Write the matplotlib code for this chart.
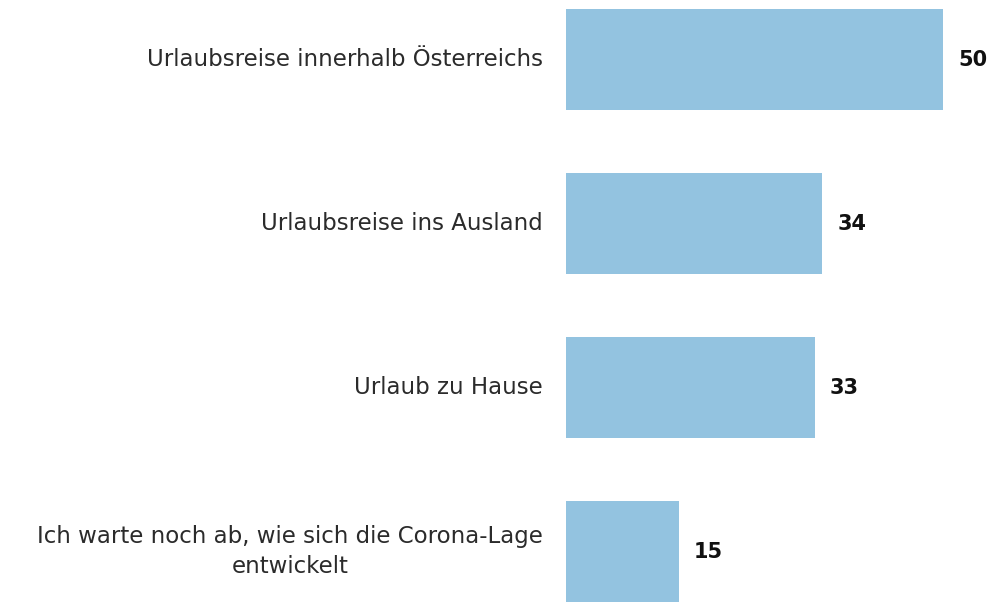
import matplotlib
matplotlib.use("Agg")
import matplotlib.pyplot as plt

categories = ["Urlaubsreise innerhalb Österreichs", "Urlaubsreise ins Ausland",
              "Urlaub zu Hause", "Ich warte noch ab, wie sich die Corona-Lage\nentwickelt"]
values = [50, 34, 33, 15]

fig = plt.figure(figsize=(9.92, 6.02), dpi=100)
ax = fig.add_axes([566/992, 0, 1 - 566/992, 1])
y = list(range(len(categories)))
ax.barh(y, values, height=0.616, color="#93C3E0")
ax.set_xlim(0, 426/7.54)
ax.set_ylim(3 + 50.5/164, -59.5/164)
ax.axis("off")
for yi, cat, v in zip(y, categories, values):
    ax.annotate(cat, xy=(0, yi), xytext=(-23, 0), textcoords="offset pixels",
                ha="right", va="center", multialignment="center", fontsize=16.5,
                color="#2b2b2b", family="DejaVu Sans", linespacing=1.4)
    ax.annotate(str(v), xy=(v, yi), xytext=(15, 0), textcoords="offset pixels",
                ha="left", va="center", fontsize=15, fontweight="bold", color="#111111", family="DejaVu Sans")
fig.savefig("out.png", dpi=100)
